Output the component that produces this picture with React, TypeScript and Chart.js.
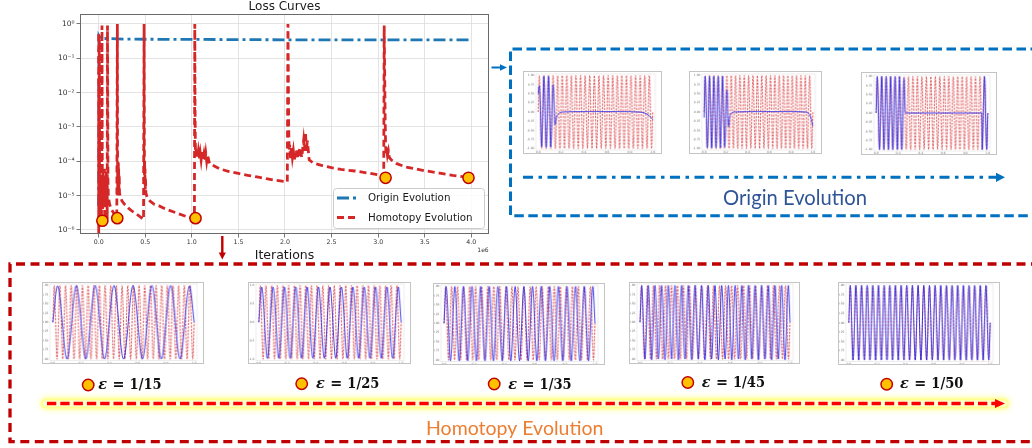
import React, { useEffect, useRef } from "react";
import { Chart, registerables } from "chart.js";

Chart.register(...registerables);

// ---------------- main loss chart data (x in units of 1e6 iterations) ----------------
const iterationTicks = [0, 0.5, 1, 1.5, 2, 2.5, 3, 3.5, 4];
const lossTickValues = [1e-6, 1e-5, 1e-4, 1e-3, 1e-2, 1e-1, 1];
const lossTickLabels = ["10⁻⁶", "10⁻⁵", "10⁻⁴", "10⁻³", "10⁻²", "10⁻¹", "10⁰"];
const legendLabels = ["Origin Evolution", "Homotopy Evolution"];

const originLoss: [number, number][] = [
  [0.0, 5e-6], [0.004, 0.45], [0.02, 0.38], [0.3, 0.36], [1.0, 0.355],
  [2.0, 0.345], [3.0, 0.345], [3.98, 0.345],
];

const homotopyLoss: [number, number][] = [
  [0.0, 0.5], [0.001, 8e-7], [0.002, 2e-2], [0.003, 3e-6], [0.004, 4e-3], [0.005, 1.5e-6],
  [0.006, 0.35], [0.007, 6e-5], [0.008, 2e-6], [0.009, 1e-3], [0.01, 4e-6], [0.012, 3e-5],
  [0.013, 1.5e-6], [0.015, 2e-5], [0.017, 5e-6], [0.019, 4e-5], [0.021, 3e-6], [0.023, 1.5e-5],
  [0.025, 2.5e-6], [0.028, 8e-6], [0.03, 2e-6], [0.033, 1e-5], [0.036, 0.9], [0.038, 3e-3],
  [0.04, 2e-5], [0.042, 4e-6], [0.045, 6e-5], [0.048, 1e-5], [0.05, 3e-5], [0.053, 5e-6],
  [0.056, 4e-5], [0.059, 1e-5], [0.062, 6e-5], [0.065, 2e-6], [0.068, 2e-5], [0.071, 5e-6],
  [0.074, 3e-5], [0.077, 8e-6], [0.08, 5e-5], [0.083, 1.5e-5], [0.086, 8e-6], [0.089, 3e-5],
  [0.092, 2e-6], [0.095, 0.9], [0.098, 2e-3], [0.1, 3e-5], [0.104, 1e-5], [0.115, 6e-6],
  [0.135, 4e-6], [0.165, 3e-6], [0.195, 2.2e-6],
  [0.201, 1.0], [0.203, 2e-4], [0.205, 1e-5], [0.207, 8e-5], [0.209, 3e-5], [0.211, 1e-4],
  [0.213, 2e-5], [0.215, 6e-5], [0.218, 1.5e-5], [0.221, 4e-5], [0.224, 1.2e-5], [0.23, 1e-5],
  [0.25, 7e-6], [0.28, 5.5e-6], [0.32, 4.3e-6], [0.36, 3.5e-6], [0.4, 3e-6], [0.44, 2.5e-6],
  [0.482, 2e-6],
  [0.488, 1.0], [0.49, 3e-4], [0.492, 4e-5], [0.494, 1e-4], [0.496, 2e-5], [0.498, 6e-5],
  [0.5, 1.5e-5], [0.503, 3e-5], [0.507, 1.2e-5], [0.52, 9e-6], [0.55, 7e-6], [0.6, 5.5e-6],
  [0.65, 5e-6], [0.7, 4.3e-6], [0.75, 3.8e-6], [0.85, 3e-6], [0.95, 2.4e-6], [1.028, 2.1e-6],
  [1.032, 1.0], [1.035, 3e-3], [1.038, 3e-4], [1.042, 1.5e-4], [1.05, 2.5e-4], [1.06, 1.3e-4],
  [1.07, 2e-4], [1.08, 1.2e-4], [1.09, 1.8e-4], [1.1, 1.1e-4], [1.11, 1.9e-4], [1.12, 1.1e-4],
  [1.13, 1.6e-4], [1.14, 1e-4], [1.15, 1.7e-4], [1.16, 1e-4], [1.17, 1.5e-4], [1.19, 8.5e-5],
  [1.3, 6e-5], [1.4, 5e-5], [1.5, 4.4e-5], [1.6, 3.9e-5], [1.7, 3.5e-5], [1.8, 3.1e-5],
  [1.9, 2.8e-5], [2.025, 2.5e-5],
  [2.032, 1.0], [2.036, 3e-2], [2.04, 1e-3], [2.045, 2e-4], [2.05, 3e-4], [2.06, 1.2e-4],
  [2.07, 2.5e-4], [2.08, 1.3e-4], [2.09, 2e-4], [2.1, 1.1e-4], [2.12, 2.2e-4], [2.14, 1.2e-4],
  [2.16, 2.5e-4], [2.18, 1.3e-4], [2.2, 4e-4], [2.21, 2e-4], [2.22, 7e-4], [2.23, 2e-4],
  [2.24, 4e-4], [2.26, 1.1e-4], [2.3, 9e-5], [2.4, 7.5e-5], [2.5, 6.5e-5], [2.6, 5.8e-5],
  [2.75, 5.2e-5], [2.9, 4.5e-5], [3.0, 4e-5], [3.06, 3.5e-5],
  [3.065, 0.9], [3.07, 4e-2], [3.075, 2e-3], [3.08, 3e-4], [3.085, 1.5e-4], [3.09, 2.5e-4],
  [3.1, 1.5e-4], [3.11, 2e-4], [3.12, 1.3e-4], [3.14, 1.1e-4], [3.2, 8.5e-5], [3.3, 6.8e-5],
  [3.5, 5.3e-5], [3.66, 4.5e-5], [3.8, 3.9e-5], [3.97, 3.4e-5],
];

const stageMarkers: [number, number][] = [
  [0.04, 1.85e-6], [0.2, 2.2e-6], [1.04, 2.2e-6], [3.08, 3.3e-5], [3.97, 3.3e-5],
];

// ---------------- thumbnail data ----------------
// peak values (alternating) of the reference solution (epsilon = 1/50)
const targetPeaks = [
  1, -1, 1, -1, 1, -1, 1, -1, 1, -1, 1, -1, 1, -1, 1, -1, 1, -1, 1, -1, 1, -1, 1, -1, 1,
  -1, 1, -1, 1, -1, 1, -1, 1, -1, 1, -1, 1, -1, 1, -1, 1, -1, 1, -1, 1, -1, 1, -1, 1, -1,
];
const eps15Peaks = [0.99, -1, 1, -1, 1, -1, 1, -1, 1, -1, 1, -1, 1, -1, 0.99];
const eps25Peaks = [
  0.96, -0.98, 0.96, -0.98, 0.96, -0.98, 0.96, -0.98, 0.96, -0.98, 0.96, -0.98, 0.96,
  -0.98, 0.96, -0.98, 0.96, -0.98, 0.96, -0.98, 0.96, -0.98, 0.96, -0.98, 0.96,
];
const eps35Peaks = [
  1, -1.02, 1, -1.02, 1, -1.02, 1, -1.02, 1, -1.02, 1, -1.02, 1, -1.02, 1, -1.02, 1, -1.02,
  1, -1.02, 1, -1.02, 1, -1.02, 1, -1.02, 1, -1.02, 1, -1.02, 1, -1.02, 1, -1.02, 1,
];
const eps45Peaks = [
  1, -1, 1, -1.02, 1, -1, 1, -1.02, 1, -1, 1, -1.02, 1, -1, 1, -1.02, 1, -1, 1, -1.02, 1,
  -1, 1, -1.02, 1, -1, 1, -1.02, 1, -1, 1, -1.02, 1, -1, 1, -1.02, 1, -1, 1, -1.02, 1, -1,
  1, -1.02, 1,
];
const eps50Peaks = [
  1, -1, 1, -1, 1, -1, 1, -1, 1, -1, 1, -1, 1, -1, 1, -1, 1, -1, 1, -1, 1, -1, 1, -1, 1,
  -1, 1, -1, 1, -1, 1, -1, 1, -1, 1, -1, 1, -1, 1, -1, 1, -1, 1, -1, 1, -1, 1, -1, 1, -1,
];
const originRun1: [number, number][] = [
  [0, 0.5], [0.01, 0.72], [0.03, -0.95], [0.05, 0.98], [0.07, -0.97], [0.09, 0.98],
  [0.11, -0.96], [0.13, 0.75], [0.148, -0.35], [0.16, -0.14], [0.18, -0.04], [0.21, 0.0],
  [0.4, 0.01], [0.7, 0.01], [0.88, 0.0], [0.93, -0.03], [0.97, -0.1], [1.0, -0.2],
];
const originRun2: [number, number][] = [
  [0, -0.15], [0.01, 0.98], [0.03, -0.98], [0.05, 0.98], [0.07, -0.98], [0.09, 0.98],
  [0.11, -0.98], [0.13, 0.98], [0.15, -0.98], [0.17, 0.98], [0.19, -0.95], [0.21, 0.6],
  [0.225, -0.4], [0.235, -0.15], [0.25, -0.04], [0.28, 0.0], [0.5, 0.01], [0.8, 0.01],
  [0.93, 0.0], [0.96, -0.04], [0.98, -0.14], [1.0, -0.38],
];
const originRun3: [number, number][] = [
  [0, 0], [0.01, 1], [0.03, -1], [0.05, 1], [0.07, -1], [0.09, 1], [0.11, -1], [0.13, 1],
  [0.15, -1], [0.17, 1], [0.19, -1], [0.21, 1], [0.23, -1], [0.25, 0.95], [0.262, 0.0],
  [0.5, 0.0], [0.945, 0.0], [0.95, -1], [0.97, 1], [0.99, -1], [1.0, 0],
];
const thumbXTicks = [0, 0.2, 0.4, 0.6, 0.8, 1.0];
const thumbYTicksFine = [-1, -0.75, -0.5, -0.25, 0, 0.25, 0.5, 0.75, 1];
const thumbYTicksCoarse = [-1, -0.5, 0, 0.5, 1];
const epsLabels = ["1/15", "1/25", "1/35", "1/45", "1/50"];
const panelTitles = ["Origin Evolution", "Homotopy Evolution"];

const peaksToPoints = (peaks: number[]) => [
  { x: 0, y: 0 },
  ...peaks.map((p, k) => ({ x: (k + 0.5) / peaks.length, y: p })),
  { x: 1, y: 0 },
];
const pairsToPoints = (pairs: [number, number][]) => pairs.map(([x, y]) => ({ x, y }));

// ---------------- main chart ----------------
const lossPlugin = {
  id: "lossDecor",
  afterDraw(chart: any) {
    const { ctx, chartArea: a } = chart;
    ctx.save();
    ctx.strokeStyle = "#6a6a6a";
    ctx.lineWidth = 1;
    ctx.strokeRect(a.left + 0.5, a.top + 0.5, a.right - a.left - 1, a.bottom - a.top - 1);
    ctx.fillStyle = "#1a1a1a";
    ctx.textAlign = "center";
    ctx.textBaseline = "alphabetic";
    ctx.font = '12px "DejaVu Sans"';
    ctx.fillText("Loss Curves", (a.left + a.right) / 2, 10);
    ctx.font = '12.5px "DejaVu Sans"';
    ctx.fillText("Iterations", (a.left + a.right) / 2, 258.5);
    ctx.font = '6px "DejaVu Sans"';
    ctx.fillStyle = "#333";
    ctx.fillText("1e6", 483, 252);
    // legend
    const lx = 333, ly = 188, lw = 151, lh = 40;
    ctx.fillStyle = "rgba(255,255,255,0.85)";
    ctx.strokeStyle = "#cccccc";
    ctx.lineWidth = 1;
    ctx.beginPath();
    (ctx as any).roundRect(lx + 0.5, ly + 0.5, lw, lh, 3);
    ctx.fill();
    ctx.stroke();
    const ds = chart.data.datasets;
    [0, 1].forEach((i) => {
      const y = i === 0 ? 198 : 217.5;
      ctx.strokeStyle = ds[i].borderColor;
      ctx.lineWidth = 2.8;
      ctx.setLineDash(ds[i].borderDash);
      ctx.beginPath();
      ctx.moveTo(337, y);
      ctx.lineTo(359, y);
      ctx.stroke();
      ctx.setLineDash([]);
      ctx.fillStyle = "#1a1a1a";
      ctx.font = '10.3px "DejaVu Sans"';
      ctx.textAlign = "left";
      ctx.textBaseline = "middle";
      ctx.fillText(legendLabels[i], 368, y + 0.5);
    });
    ctx.restore();
  },
};

function LossChart() {
  const ref = useRef<HTMLCanvasElement>(null);
  useEffect(() => {
    const chart = new Chart(ref.current as HTMLCanvasElement, {
      type: "line",
      data: {
        datasets: [
          {
            label: legendLabels[0],
            data: pairsToPoints(originLoss),
            borderColor: "#1f77b4",
            borderWidth: 2.8,
            borderDash: [12, 4, 3, 4],
            pointRadius: 0,
            tension: 0,
            order: 3,
          },
          {
            label: legendLabels[1],
            data: pairsToPoints(homotopyLoss),
            borderColor: "#d62728",
            borderWidth: 2.8,
            borderDash: [7, 4],
            pointRadius: 0,
            tension: 0,
            order: 2,
          },
          {
            label: "stages",
            data: pairsToPoints(stageMarkers),
            showLine: false,
            pointRadius: 5.6,
            pointBackgroundColor: "#ffc000",
            pointBorderColor: "#c00000",
            pointBorderWidth: 1.5,
            order: 1,
          },
        ],
      } as any,
      options: {
        animation: false,
        responsive: false,
        events: [],
        layout: { padding: { top: 14, right: 11, left: 0, bottom: 0 } },
        plugins: { legend: { display: false }, tooltip: { enabled: false }, title: { display: false } },
        scales: {
          x: {
            type: "linear",
            min: -0.2,
            max: 4.19,
            afterBuildTicks: (s: any) => {
              s.ticks = iterationTicks.map((v) => ({ value: v }));
            },
            afterFit: (s: any) => {
              s.height = 28;
            },
            grid: { color: "#dcdcdc", lineWidth: 0.8, tickLength: 3.5, tickColor: "#555" },
            border: { display: false },
            ticks: {
              font: { size: 6.3, family: "DejaVu Sans" },
              color: "#333",
              padding: 1,
              maxRotation: 0,
              autoSkip: false,
              callback: (v: any) => Number(v).toFixed(1),
            },
          },
          y: {
            type: "logarithmic",
            min: 7.6e-7,
            max: 1.95,
            afterBuildTicks: (s: any) => {
              s.ticks = lossTickValues.map((v) => ({ value: v }));
            },
            afterFit: (s: any) => {
              s.width = 80;
            },
            grid: { color: "#dcdcdc", lineWidth: 0.8, tickLength: 3.5, tickColor: "#555" },
            border: { display: false },
            ticks: {
              font: { size: 7.5, family: "DejaVu Sans" },
              color: "#333",
              padding: 2,
              autoSkip: false,
              callback: (v: any) => {
                const i = lossTickValues.findIndex((t) => Math.abs(Math.log10(t) - Math.log10(Number(v))) < 1e-6);
                return i >= 0 ? lossTickLabels[i] : "";
              },
            },
          },
        },
      } as any,
      plugins: [lossPlugin],
    });
    return () => chart.destroy();
  }, []);
  return <canvas ref={ref} width={500} height={262} style={{ position: "absolute", left: 0, top: 0 }} />;
}

// ---------------- thumbnails ----------------
const thumbDecor = {
  id: "thumbDecor",
  afterDraw(chart: any, _args: any, opts: any) {
    const { ctx, chartArea: a, scales } = chart;
    ctx.save();
    ctx.strokeStyle = "#e0e0e0";
    ctx.lineWidth = 0.6;
    ctx.strokeRect(a.left, a.top, a.right - a.left, a.bottom - a.top);
    ctx.fillStyle = "#707070";
    ctx.font = '3px "DejaVu Sans"';
    ctx.textAlign = "right";
    ctx.textBaseline = "middle";
    (opts.yTicks as number[]).forEach((v) => {
      ctx.fillText(v.toFixed(opts.decimals), a.left - 1.5, scales.y.getPixelForValue(v));
    });
    ctx.textAlign = "center";
    ctx.textBaseline = "top";
    thumbXTicks.forEach((v) => {
      ctx.fillText(v.toFixed(1), scales.x.getPixelForValue(v), a.bottom + 1);
    });
    ctx.restore();
  },
};

type ThumbProps = {
  x: number; y: number; w: number; h: number;
  pad: { l: number; r: number; t: number; b: number };
  blue: { x: number; y: number }[];
  yTicks: number[];
  decimals: number;
};

function Thumb({ x, y, w, h, pad, blue, yTicks, decimals }: ThumbProps) {
  const ref = useRef<HTMLCanvasElement>(null);
  useEffect(() => {
    const chart = new Chart(ref.current as HTMLCanvasElement, {
      type: "line",
      data: {
        datasets: [
          {
            data: blue,
            borderColor: "rgba(35,35,235,0.85)",
            borderWidth: 1,
            pointRadius: 0,
            cubicInterpolationMode: "monotone",
            order: 1,
          },
          {
            data: peaksToPoints(targetPeaks),
            borderColor: "rgba(210,40,45,0.72)",
            borderWidth: 1.1,
            borderDash: [2.2, 1.2],
            pointRadius: 0,
            cubicInterpolationMode: "monotone",
            order: 2,
          },
        ],
      } as any,
      options: {
        animation: false,
        responsive: false,
        events: [],
        layout: { padding: { top: pad.t, right: pad.r, left: pad.l, bottom: pad.b } },
        plugins: {
          legend: { display: false },
          tooltip: { enabled: false },
          thumbDecor: { yTicks, decimals },
        },
        scales: {
          x: { type: "linear", min: -0.02, max: 1.02, display: false },
          y: { type: "linear", min: -1.04, max: 1.04, display: false },
        },
      } as any,
      plugins: [thumbDecor],
    });
    return () => chart.destroy();
  }, []);
  return (
    <canvas
      ref={ref}
      width={w - 2}
      height={h - 2}
      style={{ position: "absolute", left: x, top: y, border: "1px solid #c4c4c4", background: "#fff" }}
    />
  );
}

// ---------------- overlay drawing helpers ----------------
function arrowHead(ctx: CanvasRenderingContext2D, tipX: number, tipY: number, dir: "right" | "down", len: number, half: number, color: string) {
  ctx.save();
  ctx.setLineDash([]);
  ctx.fillStyle = color;
  ctx.beginPath();
  if (dir === "right") {
    ctx.moveTo(tipX, tipY);
    ctx.lineTo(tipX - len, tipY - half);
    ctx.lineTo(tipX - len, tipY + half);
  } else {
    ctx.moveTo(tipX, tipY);
    ctx.lineTo(tipX - half, tipY - len);
    ctx.lineTo(tipX + half, tipY - len);
  }
  ctx.closePath();
  ctx.fill();
  ctx.restore();
}

const epsLabelLayout = [
  { cx: 88.2, cy: 385, tx: 98.3, by: 389.3 },
  { cx: 301.7, cy: 383.7, tx: 316, by: 388.3 },
  { cx: 494.2, cy: 384, tx: 508.3, by: 388.5 },
  { cx: 687.8, cy: 382.5, tx: 701.7, by: 387.3 },
  { cx: 886.7, cy: 384.2, tx: 900, by: 388 },
];

function drawOverlay(ctx: CanvasRenderingContext2D) {
  ctx.clearRect(0, 0, 1032, 448);
  // blue dashed box
  ctx.save();
  ctx.strokeStyle = "#0070c0";
  ctx.lineWidth = 3;
  ctx.setLineDash([9.5, 4.5]);
  ctx.beginPath();
  ctx.moveTo(1040, 49);
  ctx.lineTo(510.5, 49);
  ctx.lineTo(510.5, 215.7);
  ctx.lineTo(1040, 215.7);
  ctx.stroke();
  ctx.restore();

  // blue small arrow into box
  ctx.save();
  ctx.strokeStyle = "#0070c0";
  ctx.lineWidth = 2;
  ctx.beginPath();
  ctx.moveTo(491.5, 67.5);
  ctx.lineTo(501, 67.5);
  ctx.stroke();
  arrowHead(ctx, 507, 67.5, "right", 7, 3.3, "#0070c0");
  ctx.restore();

  // blue dash-dot arrow
  ctx.save();
  ctx.strokeStyle = "#0070c0";
  ctx.lineWidth = 3;
  ctx.setLineDash([10, 5.5, 3.5, 5.5]);
  ctx.beginPath();
  ctx.moveTo(523, 177.3);
  ctx.lineTo(996, 177.3);
  ctx.stroke();
  arrowHead(ctx, 1005, 177.3, "right", 9, 4.6, "#0070c0");
  ctx.restore();

  // red dashed box
  ctx.save();
  ctx.strokeStyle = "#c00000";
  ctx.lineWidth = 3.3;
  ctx.setLineDash([9, 5.5]);
  ctx.beginPath();
  ctx.moveTo(1040, 264);
  ctx.lineTo(10, 264);
  ctx.lineTo(10, 441.7);
  ctx.lineTo(1040, 441.7);
  ctx.stroke();
  ctx.restore();

  // red down arrow
  ctx.save();
  ctx.strokeStyle = "#c00000";
  ctx.lineWidth = 2.4;
  ctx.beginPath();
  ctx.moveTo(222.3, 236);
  ctx.lineTo(222.3, 253.5);
  ctx.stroke();
  arrowHead(ctx, 222.3, 259.5, "down", 7, 3.6, "#c00000");
  ctx.restore();

  // yellow glow band
  ctx.save();
  ctx.lineCap = "round";
  ctx.shadowColor = "rgba(255,255,60,0.9)";
  ctx.shadowBlur = 6;
  ctx.strokeStyle = "rgba(255,255,140,0.9)";
  ctx.lineWidth = 10;
  ctx.beginPath();
  ctx.moveTo(46, 403.5);
  ctx.lineTo(1004, 403.5);
  ctx.stroke();
  ctx.shadowBlur = 0;
  ctx.strokeStyle = "rgba(255,255,215,0.95)";
  ctx.lineWidth = 6;
  ctx.stroke();
  ctx.restore();

  // red dashed highlight arrow
  ctx.save();
  ctx.strokeStyle = "#ff0000";
  ctx.lineWidth = 3.3;
  ctx.setLineDash([9.3, 4]);
  ctx.beginPath();
  ctx.moveTo(47, 403.5);
  ctx.lineTo(996, 403.5);
  ctx.stroke();
  arrowHead(ctx, 1005, 403.5, "right", 10, 4.6, "#ff0000");
  ctx.restore();

  // epsilon labels
  epsLabelLayout.forEach((p, i) => {
    ctx.save();
    ctx.beginPath();
    ctx.arc(p.cx, p.cy, 5.7, 0, Math.PI * 2);
    ctx.fillStyle = "#ffc000";
    ctx.fill();
    ctx.strokeStyle = "#c00000";
    ctx.lineWidth = 1.5;
    ctx.stroke();
    ctx.fillStyle = "#111";
    ctx.textBaseline = "alphabetic";
    ctx.textAlign = "left";
    ctx.font = 'italic bold 15px "DejaVu Serif"';
    ctx.fillText("ε", p.tx, p.by, 8.8);
    ctx.font = 'bold 15px "DejaVu Serif"';
    ctx.fillText("=", p.tx + 14.3, p.by, 12);
    ctx.fillText(epsLabels[i], p.tx + 31.3, p.by, 32);
    ctx.restore();
  });

  // panel titles
  ctx.save();
  ctx.textBaseline = "alphabetic";
  ctx.textAlign = "left";
  ctx.fillStyle = "#2f5597";
  ctx.font = '20.5px Lato';
  ctx.fillText(panelTitles[0], 723, 205, 144);
  ctx.fillStyle = "#ed7d31";
  ctx.font = '19.5px Lato';
  ctx.fillText(panelTitles[1], 426, 435, 186);
  ctx.restore();
}

export default function App() {
  const overlayRef = useRef<HTMLCanvasElement>(null);
  useEffect(() => {
    const c = overlayRef.current;
    if (!c) return;
    const ctx = c.getContext("2d");
    if (ctx) drawOverlay(ctx);
  }, []);

  const padO = { l: 12, r: 6, t: 2, b: 3 };
  const padB = { l: 7, r: 6, t: 1, b: 2.5 };

  return (
    <div style={{ position: "absolute", left: 0, top: 0, width: 1032, height: 448, background: "#fff", overflow: "hidden" }}>
      <LossChart />
      <Thumb x={523} y={71} w={141} h={85} pad={padO} blue={pairsToPoints(originRun1)} yTicks={thumbYTicksFine} decimals={2} />
      <Thumb x={689} y={71} w={135} h={85} pad={padO} blue={pairsToPoints(originRun2)} yTicks={thumbYTicksFine} decimals={2} />
      <Thumb x={861} y={72} w={138} h={85} pad={padO} blue={pairsToPoints(originRun3)} yTicks={thumbYTicksFine} decimals={2} />
      <Thumb x={42} y={282} w={164} h={84} pad={padB} blue={peaksToPoints(eps15Peaks)} yTicks={thumbYTicksFine} decimals={2} />
      <Thumb x={248} y={282} w={165} h={84} pad={padB} blue={peaksToPoints(eps25Peaks)} yTicks={thumbYTicksCoarse} decimals={1} />
      <Thumb x={433} y={283} w={174} h={84} pad={padB} blue={peaksToPoints(eps35Peaks)} yTicks={thumbYTicksFine} decimals={2} />
      <Thumb x={629} y={282} w={173} h={84} pad={padB} blue={peaksToPoints(eps45Peaks)} yTicks={thumbYTicksFine} decimals={2} />
      <Thumb x={838} y={282} w={164} h={85} pad={padB} blue={peaksToPoints(eps50Peaks)} yTicks={thumbYTicksFine} decimals={2} />
      <canvas ref={overlayRef} width={1032} height={448} style={{ position: "absolute", left: 0, top: 0, pointerEvents: "none" }} />
    </div>
  );
}
